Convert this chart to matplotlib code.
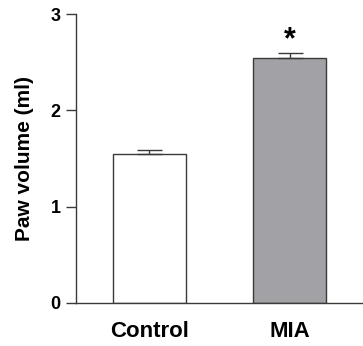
import matplotlib
matplotlib.use("Agg")
import matplotlib.pyplot as plt

# =========================================
# DATA
# =========================================
groups = ["Control", "MIA"]
means = [1.55, 2.54]
errors = [0.04, 0.06]
bar_colors = ["white", "#a2a2a6"]
marks = ["", "*"]

plt.rcParams["font.family"] = ["Liberation Sans", "DejaVu Sans"]

fig = plt.figure(figsize=(3.63, 3.46), dpi=100)
ax = fig.add_axes([0.2094, 0.1243, 0.7906, 0.8352])

x = list(range(len(groups)))
ax.bar(x, means, width=0.52, color=bar_colors, edgecolor="#3a3a3a",
       linewidth=1.0, zorder=2)
ax.errorbar(x, means, yerr=[[0] * len(errors), errors], fmt="none",
            ecolor="#3a3a3a", elinewidth=1.0, capsize=9, capthick=1.0, zorder=3)

# significance mark
for xi, m, e, s in zip(x, means, errors, marks):
    if s:
        ax.text(xi, m + e - 0.03, s, ha="center", va="bottom",
                fontsize=22, fontweight="bold")

ax.set_xlim(-0.523, 1.52)
ax.set_ylim(0, 3)
ax.set_yticks([0, 1, 2, 3])
ax.set_xticks(x)
ax.set_xticklabels(groups, fontsize=16, fontweight="bold")
ax.tick_params(axis="x", length=0, pad=13)
ax.tick_params(axis="y", length=7, width=1.0, color="#3a3a3a", pad=4,
               labelsize=13)
for lbl in ax.get_yticklabels():
    lbl.set_fontweight("bold")

ax.set_ylabel("Paw volume (ml)", fontsize=15, fontweight="bold", labelpad=12)

for side in ["top", "right"]:
    ax.spines[side].set_visible(False)
for side in ["left", "bottom"]:
    ax.spines[side].set_color("#3a3a3a")
    ax.spines[side].set_linewidth(1.0)

fig.savefig("out.png", dpi=100)
